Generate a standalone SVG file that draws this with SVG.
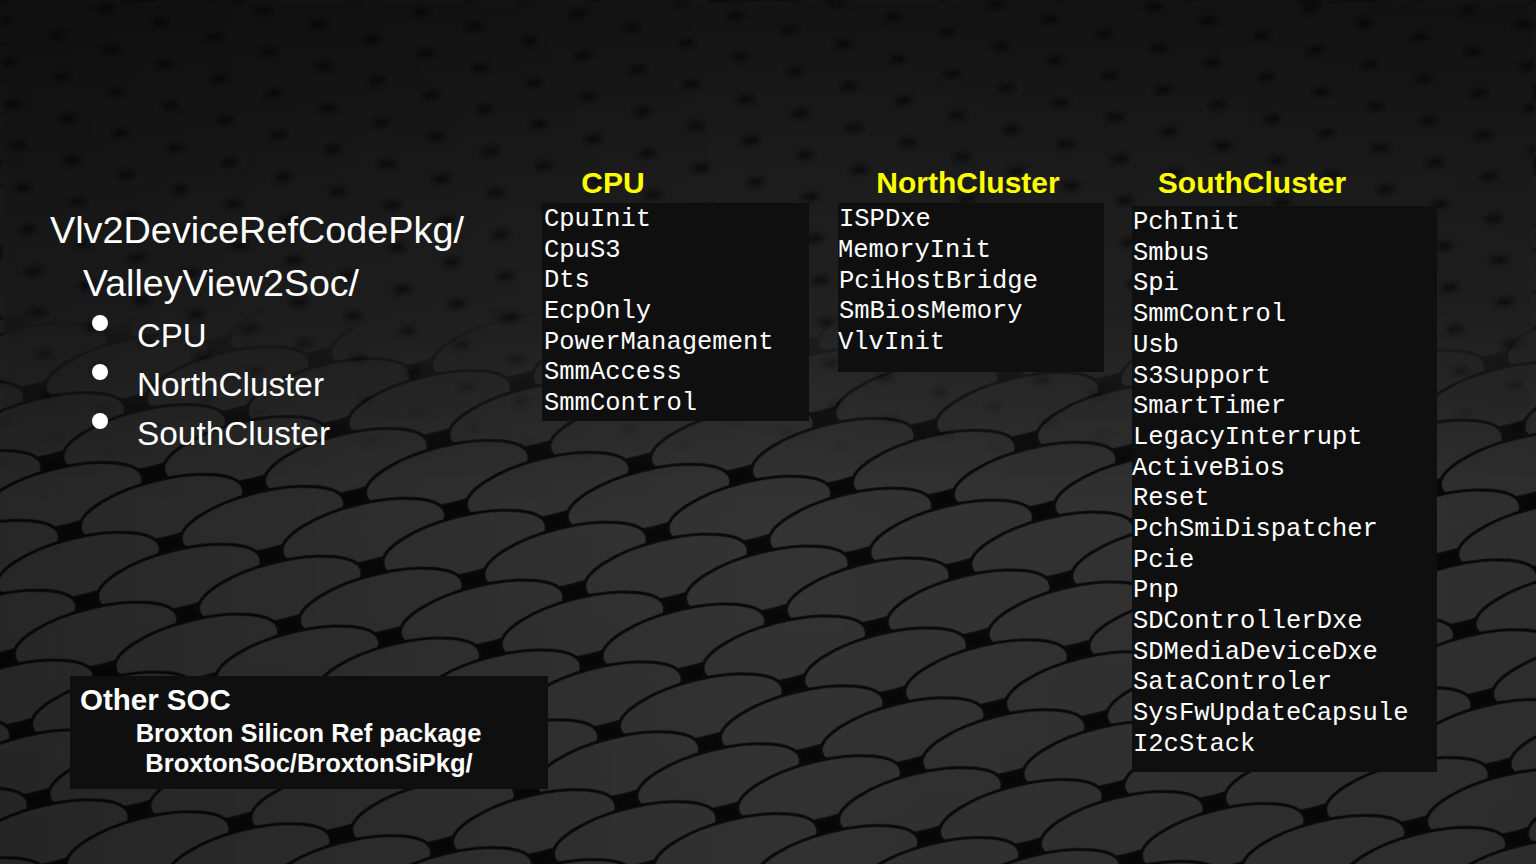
<svg xmlns="http://www.w3.org/2000/svg" width="1536" height="864" viewBox="0 0 1536 864">
  <defs>
    <pattern id="ovalsBig" width="190" height="72" patternUnits="userSpaceOnUse" patternTransform="translate(40 20) rotate(-14)">
      <rect width="190" height="72" fill="#080808"/>
      <g fill="#363636" stroke="#0a0a0a" stroke-width="3">
        <ellipse cx="0" cy="0" rx="84" ry="29"/>
        <ellipse cx="190" cy="0" rx="84" ry="29"/>
        <ellipse cx="95" cy="36" rx="84" ry="29"/>
        <ellipse cx="0" cy="72" rx="84" ry="29"/>
        <ellipse cx="190" cy="72" rx="84" ry="29"/>
      </g>
    </pattern>
    <pattern id="ovalsSmall" width="104" height="42" patternUnits="userSpaceOnUse" patternTransform="rotate(-7)">
      <rect width="104" height="42" fill="#111111"/>
      <g fill="#2b2b2b">
        <ellipse cx="0" cy="0" rx="44" ry="17"/>
        <ellipse cx="104" cy="0" rx="44" ry="17"/>
        <ellipse cx="52" cy="21" rx="44" ry="17"/>
        <ellipse cx="0" cy="42" rx="44" ry="17"/>
        <ellipse cx="104" cy="42" rx="44" ry="17"/>
      </g>
    </pattern>
    <linearGradient id="fadeMask" x1="0" y1="0" x2="0" y2="1">
      <stop offset="0" stop-color="#fff"/>
      <stop offset="0.35" stop-color="#fff"/>
      <stop offset="0.55" stop-color="#000"/>
    </linearGradient>
    <mask id="topMask" maskUnits="userSpaceOnUse" x="0" y="0" width="1536" height="864">
      <rect width="1536" height="864" fill="url(#fadeMask)"/>
    </mask>
    <filter id="blur" x="-5%" y="-5%" width="110%" height="110%">
      <feGaussianBlur stdDeviation="3"/>
    </filter>
    <linearGradient id="shade" x1="0" y1="0" x2="0" y2="1">
      <stop offset="0" stop-color="#000" stop-opacity="0.55"/>
      <stop offset="0.25" stop-color="#000" stop-opacity="0.3"/>
      <stop offset="0.6" stop-color="#000" stop-opacity="0.05"/>
      <stop offset="1" stop-color="#000" stop-opacity="0.1"/>
    </linearGradient>
    <linearGradient id="shadeX" x1="0" y1="0" x2="1" y2="0">
      <stop offset="0" stop-color="#000" stop-opacity="0.25"/>
      <stop offset="0.5" stop-color="#000" stop-opacity="0"/>
      <stop offset="1" stop-color="#000" stop-opacity="0.1"/>
    </linearGradient>
    <style>
      .box { fill: #0f0f0f; }
      .head { font-family: "Liberation Sans", Arial, sans-serif; font-weight: bold; font-size: 30px; fill: #ffff00; text-anchor: middle; }
      .mono { font-family: "Courier New", "Nimbus Mono PS", "Nimbus Mono L", FreeMono, "Liberation Mono", monospace; font-size: 25.5px; fill: #ffffff; }
      .main { font-family: "Liberation Sans", Arial, sans-serif; fill: #ffffff; }
      .bold { font-family: "Liberation Sans", Arial, sans-serif; font-weight: bold; fill: #ffffff; }
    </style>
  </defs>

  <g id="background">
    <rect width="1536" height="864" fill="url(#ovalsBig)"/>
    <rect width="1536" height="864" fill="url(#ovalsSmall)" mask="url(#topMask)" filter="url(#blur)"/>
    <rect width="1536" height="864" fill="url(#shade)"/>
    <rect width="1536" height="864" fill="url(#shadeX)"/>
  </g>

  <g id="title">
    <text class="main" x="50" y="243" font-size="37" textLength="414" lengthAdjust="spacingAndGlyphs">Vlv2DeviceRefCodePkg/</text>
    <text class="main" x="83" y="296" font-size="37" textLength="276" lengthAdjust="spacingAndGlyphs">ValleyView2Soc/</text>
    <circle cx="100" cy="323" r="8" fill="#ffffff"/>
    <circle cx="100" cy="372" r="8" fill="#ffffff"/>
    <circle cx="100" cy="421" r="8" fill="#ffffff"/>
    <text class="main" x="137" y="347" font-size="33">CPU</text>
    <text class="main" x="137" y="396" font-size="33" textLength="187" lengthAdjust="spacingAndGlyphs">NorthCluster</text>
    <text class="main" x="137" y="445" font-size="33" textLength="193" lengthAdjust="spacingAndGlyphs">SouthCluster</text>
  </g>

  <g id="cpu">
    <text class="head" x="613" y="193">CPU</text>
    <rect class="box" x="542" y="203" width="267" height="218"/>
    <text class="mono" x="544" y="226">CpuInit</text>
    <text class="mono" x="544" y="257">CpuS3</text>
    <text class="mono" x="544" y="287">Dts</text>
    <text class="mono" x="544" y="318">EcpOnly</text>
    <text class="mono" x="544" y="349">PowerManagement</text>
    <text class="mono" x="544" y="379">SmmAccess</text>
    <text class="mono" x="544" y="410">SmmControl</text>
  </g>

  <g id="northcluster">
    <text class="head" x="968" y="193">NorthCluster</text>
    <rect class="box" x="838" y="203" width="266" height="169"/>
    <text class="mono" x="839" y="226">ISPDxe</text>
    <text class="mono" x="838" y="257">MemoryInit</text>
    <text class="mono" x="839" y="288">PciHostBridge</text>
    <text class="mono" x="839" y="318">SmBiosMemory</text>
    <text class="mono" x="838" y="349">VlvInit</text>
  </g>

  <g id="southcluster">
    <text class="head" x="1252" y="193">SouthCluster</text>
    <rect class="box" x="1132" y="206" width="305" height="566"/>
    <text class="mono" x="1133" y="229">PchInit</text>
    <text class="mono" x="1133" y="260">Smbus</text>
    <text class="mono" x="1133" y="290">Spi</text>
    <text class="mono" x="1133" y="321">SmmControl</text>
    <text class="mono" x="1133" y="352">Usb</text>
    <text class="mono" x="1133" y="383">S3Support</text>
    <text class="mono" x="1133" y="413">SmartTimer</text>
    <text class="mono" x="1133" y="444">LegacyInterrupt</text>
    <text class="mono" x="1132" y="475">ActiveBios</text>
    <text class="mono" x="1133" y="505">Reset</text>
    <text class="mono" x="1133" y="536">PchSmiDispatcher</text>
    <text class="mono" x="1133" y="567">Pcie</text>
    <text class="mono" x="1133" y="597">Pnp</text>
    <text class="mono" x="1133" y="628">SDControllerDxe</text>
    <text class="mono" x="1133" y="659">SDMediaDeviceDxe</text>
    <text class="mono" x="1133" y="689">SataControler</text>
    <text class="mono" x="1133" y="720">SysFwUpdateCapsule</text>
    <text class="mono" x="1133" y="751">I2cStack</text>
  </g>

  <g id="othersoc">
    <rect class="box" x="70" y="676" width="478" height="113"/>
    <text class="bold" x="80" y="710" font-size="29.5">Other SOC</text>
    <text class="bold" x="308.5" y="742" font-size="25.5" text-anchor="middle">Broxton Silicon Ref package</text>
    <text class="bold" x="309" y="772" font-size="25.5" text-anchor="middle">BroxtonSoc/BroxtonSiPkg/</text>
  </g>

  <g id="connectors"/>
</svg>
